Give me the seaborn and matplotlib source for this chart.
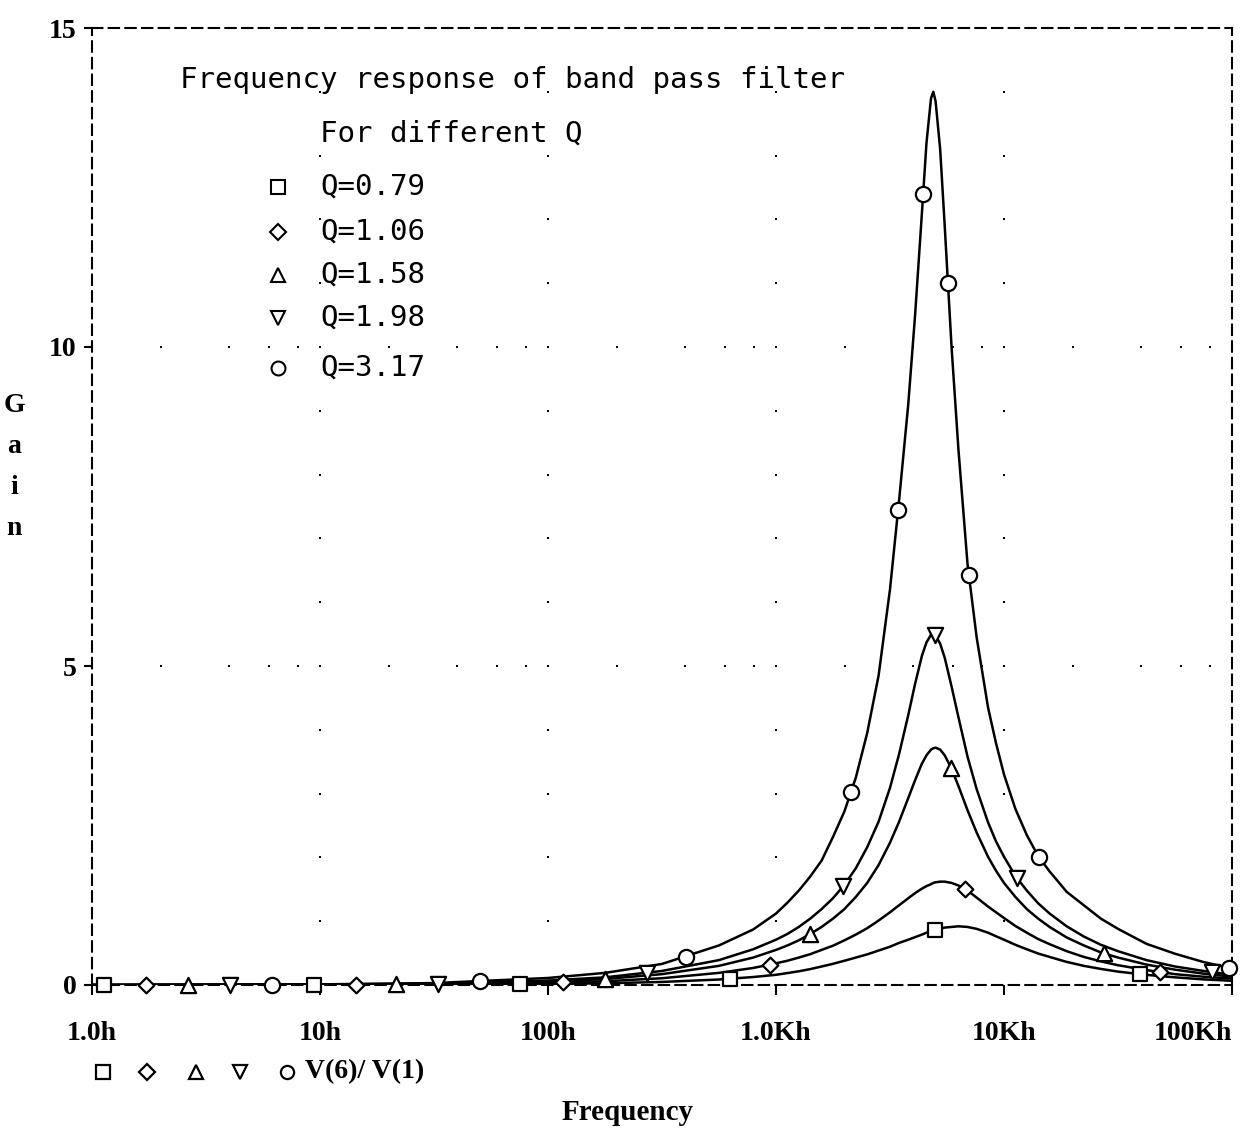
import numpy as np
import pandas as pd
import matplotlib
matplotlib.use("Agg")
import matplotlib.pyplot as plt
from matplotlib.lines import Line2D
from matplotlib.ticker import NullLocator
import seaborn as sns

# ---------------- data ----------------
freq_hz = [1, 10, 31.6, 100, 178, 316, 562, 794, 1000, 1122, 1259, 1413, 1585,
           1778, 1995, 2239, 2512, 2818, 3162, 3467, 3802, 4074, 4365, 4571,
           4786, 4898, 5012, 5248, 5495, 5888, 6310, 6918, 7586, 8511, 9226,
           10000, 11220, 12589, 14125, 15849, 18836, 22387, 26607, 31623,
           42170, 56234, 74989, 100000]

gain_q079 = [0.0, 0.002, 0.005, 0.015, 0.027, 0.048, 0.086, 0.125, 0.16, 0.187,
             0.215, 0.249, 0.29, 0.332, 0.38, 0.43, 0.48, 0.54, 0.60, 0.66,
             0.71, 0.75, 0.79, 0.82, 0.84, 0.85, 0.86, 0.88, 0.90, 0.91, 0.92,
             0.91, 0.88, 0.82, 0.764, 0.71, 0.63, 0.56, 0.493, 0.44, 0.362,
             0.30, 0.252, 0.21, 0.159, 0.12, 0.088, 0.066]
gain_q106 = [0.0, 0.003, 0.011, 0.033, 0.059, 0.106, 0.19, 0.267, 0.34, 0.38,
             0.43, 0.483, 0.55, 0.616, 0.70, 0.79, 0.89, 1.01, 1.14, 1.25,
             1.36, 1.44, 1.51, 1.55, 1.58, 1.60, 1.61, 1.62, 1.62, 1.60, 1.56,
             1.48, 1.37, 1.23, 1.14, 1.05, 0.925, 0.82, 0.72, 0.64, 0.53,
             0.44, 0.37, 0.31, 0.234, 0.17, 0.13, 0.10]
gain_q158 = [0.0, 0.005, 0.017, 0.053, 0.094, 0.17, 0.30, 0.43, 0.55, 0.62,
             0.70, 0.80, 0.91, 1.04, 1.19, 1.38, 1.60, 1.88, 2.23, 2.56, 2.93,
             3.21, 3.47, 3.60, 3.69, 3.71, 3.72, 3.69, 3.60, 3.39, 3.12, 2.74,
             2.39, 2.01, 1.79, 1.60, 1.38, 1.19, 1.04, 0.91, 0.745, 0.62, 0.51,
             0.43, 0.32, 0.24, 0.178, 0.13]
gain_q198 = [0.0, 0.01, 0.02, 0.07, 0.12, 0.22, 0.39, 0.56, 0.71, 0.80, 0.91,
             1.04, 1.19, 1.36, 1.57, 1.83, 2.16, 2.56, 3.09, 3.62, 4.23, 4.72,
             5.16, 5.37, 5.49, 5.5, 5.48, 5.35, 5.13, 4.68, 4.2, 3.58, 3.07,
             2.55, 2.25, 2.01, 1.71, 1.48, 1.28, 1.12, 0.92, 0.76, 0.63, 0.53,
             0.39, 0.29, 0.22, 0.16]
gain_q317 = [0.0, 0.01, 0.03, 0.11, 0.19, 0.33, 0.62, 0.87, 1.12, 1.29, 1.48,
             1.70, 1.95, 2.32, 2.72, 3.25, 3.95, 4.85, 6.2, 7.6, 9.1, 10.5,
             12.1, 13.2, 13.9, 14.0, 13.85, 13.1, 11.9, 10.0, 8.4, 6.6, 5.45,
             4.35, 3.79, 3.3, 2.76, 2.35, 2.02, 1.78, 1.46, 1.25, 1.04, 0.88,
             0.645, 0.49, 0.36, 0.26]

# marker positions along each trace
mk_freq_q079 = [1.13, 9.4, 75, 628, 4980, 39500]
mk_gain_q079 = [0.0, 0.002, 0.012, 0.098, 0.86, 0.17]
mk_freq_q106 = [1.72, 14.4, 116, 942, 6740, 48300]
mk_gain_q106 = [0.0, 0.005, 0.04, 0.32, 1.50, 0.204]
mk_freq_q158 = [2.64, 21.5, 178, 1410, 5860, 27500]
mk_gain_q158 = [0.0, 0.011, 0.094, 0.80, 3.40, 0.50]
mk_freq_q198 = [4.03, 33, 272, 1970, 4980, 11400, 81700]
mk_gain_q198 = [0.0, 0.02, 0.19, 1.55, 5.49, 1.68, 0.20]
mk_freq_q317 = [6.16, 50.3, 403, 2133, 3428, 4416, 5675, 7015, 14260, 97000]
mk_gain_q317 = [0.0, 0.06, 0.44, 3.03, 7.45, 12.4, 11.0, 6.43, 2.0, 0.27]

series_labels = ["Q=0.79", "Q=1.06", "Q=1.58", "Q=1.98", "Q=3.17"]
series_markers = ["s", "D", "^", "v", "o"]
marker_sizes = [100, 64, 120, 120, 120]

x_tick_values = [1, 10, 100, 1000, 10000, 100000]
x_tick_labels = ["1.0h", "10h", "100h", "1.0Kh", "10Kh", "100Kh"]
y_tick_values = [0, 5, 10, 15]
y_tick_labels = ["0", "5", "10", "15"]

title_line1 = "Frequency response of band pass filter"
title_line2 = "For different Q"
trace_name = "V(6)/ V(1)"

# ---------------- build tables ----------------
gains = [gain_q079, gain_q106, gain_q158, gain_q198, gain_q317]
mk_freqs = [mk_freq_q079, mk_freq_q106, mk_freq_q158, mk_freq_q198, mk_freq_q317]
mk_gains = [mk_gain_q079, mk_gain_q106, mk_gain_q158, mk_gain_q198, mk_gain_q317]

df = pd.concat([pd.DataFrame({"freq": freq_hz, "gain": g, "series": lab})
                for g, lab in zip(gains, series_labels)], ignore_index=True)

# ---------------- figure ----------------
sns.set_theme(style="white")
plt.rcParams['font.family'] = ['DejaVu Sans Mono', 'DejaVu Sans']
plt.rcParams['axes.edgecolor'] = 'black'
plt.rcParams['text.color'] = 'black'
plt.rcParams['xtick.color'] = 'black'
plt.rcParams['ytick.color'] = 'black'

BOLD = dict(fontfamily="Liberation Serif", fontweight="bold")

W, H = 1242, 1136
fig = plt.figure(figsize=(W / 100, H / 100), dpi=100)
fig.patch.set_facecolor("white")
ax = fig.add_axes([92 / W, 1 - 985 / H, 1140 / W, 957 / H])
ax.set_xscale("log")

# dotted grid (PSpice style): rows at 5 and 10, columns at decades
row_x = [m * 10 ** k for k in range(0, 5) for m in (2, 4, 6, 8, 10) if m * 10 ** k < 1e5]
for gy in (5, 10):
    ax.scatter(row_x, [gy] * len(row_x), s=4.5, color="black", marker="s",
               linewidths=0, zorder=1)
col_y = list(range(1, 15))
for gx in (10, 100, 1000, 10000):
    ax.scatter([gx] * len(col_y), col_y, s=4.5, color="black", marker="s",
               linewidths=0, zorder=1)

# traces
sns.lineplot(data=df, x="freq", y="gain", hue="series",
             palette=["black"] * len(series_labels), estimator=None,
             linewidth=1.8, legend=False, ax=ax, zorder=2)

for lab, m, sz, fx, gy in zip(series_labels, series_markers, marker_sizes, mk_freqs, mk_gains):
    sns.scatterplot(x=fx, y=gy, marker=m, s=sz, color="black",
                    facecolor="white", edgecolor="black", linewidth=1.6,
                    ax=ax, zorder=4, clip_on=False)

ax.set_xlim(1, 1e5)
ax.set_ylim(0, 15)

# axes styling
for sp in ax.spines.values():
    sp.set_visible(True)
    sp.set_linestyle((0, (5, 3)))
    sp.set_linewidth(1.5)
    sp.set_color("black")

ax.set_xticks(x_tick_values)
ax.xaxis.set_minor_locator(NullLocator())
ax.set_xticklabels(x_tick_labels, fontsize=20, **BOLD)
ax.get_xticklabels()[-1].set_horizontalalignment("right")
ax.set_yticks(y_tick_values)
ax.set_yticklabels(y_tick_labels, fontsize=20, **BOLD)
ax.tick_params(axis="x", which="major", direction="out", length=7, width=1.5,
               pad=19, color="black", bottom=True)
ax.tick_params(axis="y", which="major", direction="out", length=6, width=1.5,
               pad=5, color="black", left=True)
ax.set_xlabel("")
ax.set_ylabel("")

# in-plot annotation
ax.text(0.077, 0.946, title_line1, transform=ax.transAxes, fontsize=21,
        ha="left", va="center")
ax.text(0.200, 0.890, title_line2, transform=ax.transAxes, fontsize=21,
        ha="left", va="center")
legend_y = [0.834, 0.787, 0.742, 0.697, 0.645]
for lab, m, yy in zip(series_labels, series_markers, legend_y):
    ax.plot([0.163], [yy], transform=ax.transAxes, marker=m, ms=10 if m != "D" else 8,
            mfc="white", mec="black", mew=1.5, ls="none", clip_on=False)
    ax.text(0.200, yy, lab, transform=ax.transAxes, fontsize=21,
            ha="left", va="center")

# bottom trace legend row
row_y = 1 - 1072 / H
for m, px in zip(series_markers, [103, 147, 196, 240, 287]):
    fig.add_artist(Line2D([px / W], [row_y], transform=fig.transFigure, marker=m,
                          ms=9.5 if m != "D" else 8, mfc="white", mec="black",
                          mew=1.6, ls="none"))
fig.text(305 / W, row_y, trace_name, fontsize=20, ha="left", va="center", **BOLD)

# axis titles
fig.text(628 / W, 1 - 1112 / H, "Frequency", fontsize=21, ha="center",
         va="center", **BOLD)
fig.text(14 / W, 1 - 467 / H, "G\na\ni\nn", fontsize=20, ha="center",
         va="center", linespacing=1.85, **BOLD)

fig.savefig("out.png", dpi=100, facecolor="white")
